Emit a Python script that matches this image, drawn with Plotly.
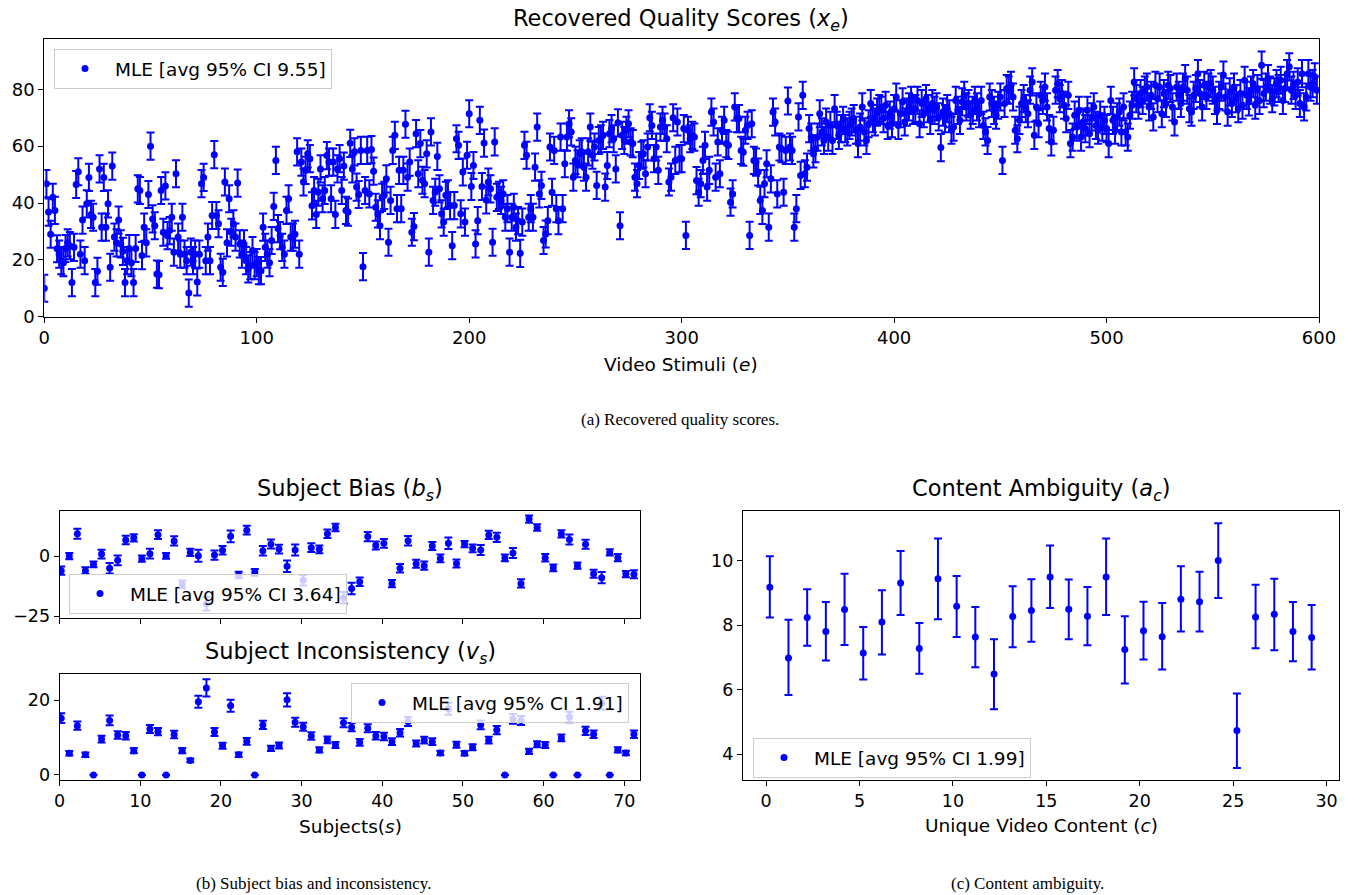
import plotly.graph_objects as go

# ---------------- data ----------------
# (a) recovered quality scores x_e, e = 0..599
quality_seg1 = [10, 46.8, 36.8, 29, 42, 37.4, 23.9, 22, 19.7, 19,
                24, 26, 25, 12, 24.4, 46.5, 51, 22, 34, 19.7,
                39.7, 49, 36, 35, 12, 16, 52, 31.5, 49, 31.5,
                39.7, 17.4, 53, 28, 26, 34, 25.6, 23, 12, 19.7,
                24, 19, 12, 24, 45, 44.4, 21.5, 31.5, 26, 43,
                60, 34.4, 32, 15, 14.8, 44.4, 29.7, 46, 28.5, 30.3,
                35, 22.7, 50.3, 28, 22, 35, 22, 19.7, 8.3, 22.7,
                19.7, 22, 12.2, 22, 46.8, 49, 19.7, 28, 19.7, 35.6,
                57, 35.6, 32.7, 17.4, 15.6, 47.4, 26, 41.5, 29.7, 32.7,
                28, 47, 25.6, 22, 25.6, 19.7, 16.8, 18, 23.3, 18,
                19, 16.2, 16.2, 31.5, 24.4, 22, 19, 26.8, 38.8, 55,
                31, 28.5, 24.4, 22, 37.4, 41.5, 28, 28, 29, 58,
                22, 54.4, 47.4, 51.5, 57.3, 55.6, 39, 44.4, 36, 43.8,
                52, 41.5, 44.4, 56.7, 54.4, 41.5, 54.4, 36, 52, 55.6,
                44.4, 53, 37.4, 36.8, 61, 52, 58, 45.6, 43, 58.5,
                17.6, 44.4, 58.5]
quality_seg2 = [43.2, 58.8, 51.2, 38.5, 36.2, 32, 42, 42.7, 48.5, 26.2,
                40.9, 58.5, 63.8, 38, 51.5, 38, 51.5, 67.7, 49.1, 54.4,
                29.7, 31.7, 64.4, 50.3, 60.9, 48, 46.8, 57.3, 22.7, 65,
                40.9, 43.8, 56.4, 45, 36.2, 33.3, 42.7, 43.2, 39.1, 25,
                39.1, 62.6, 60.3, 36.2, 50.9, 33.3, 56.8, 71.4, 45.8, 53.2,
                25.6, 33.8, 69.1, 45.8, 61.1, 41.1, 47.4, 45, 26.2, 61.5,
                42, 42.7, 40.9, 43.2, 35, 38, 22.7, 35, 38.5, 31.5,
                33.8, 22.3, 33.3, 60.3, 56.8, 35, 38, 35, 52.6, 66.7,
                43.2, 46.2, 26.8, 29.1, 33.8, 59.7, 43.8, 58.5, 38,
                33.8, 63.2, 38, 53.8, 63.2, 67.9, 65, 49.1, 55,
                53.8, 57.3, 58, 52.6, 49.1, 58, 66.7, 56.8,
                59.7, 46.2, 62, 62.6, 63.8, 45.6, 53.2, 64.4,
                66.2, 62.6, 52, 68.2, 32, 63.8, 62, 65.6, 67.9,
                61.5, 60.9, 49.1, 46.8, 53.2, 56.8, 57.3, 50.3, 59.7, 70,
                67.3, 55.6, 59.7, 51.5, 66.7, 69.1, 66.7, 62.6, 47.4, 49.1,
                70, 55, 68.5, 55.6, 55.6, 66.2, 28.6, 65.6, 62.6]
quality_seg3 = [63.8, 63.2, 47.9, 43.8, 46.8, 55, 60.3, 45.6, 51.5, 72,
                68.5, 49.1, 61.5, 50.3, 65.6, 69.1, 60.9, 60.3, 40.3, 43.2,
                73.8, 69.7, 69.7, 58.5, 57.9, 65.6, 67.3, 28.6,
                67.9, 55, 54.4, 50.9, 40.9, 37.4, 46.8, 53.8, 31.5,
                48.5, 72, 68.5, 43.2, 59.7, 59.1, 43.8, 58.5, 75.9, 59.7, 58.5, 31.5,
                38, 70.3, 49.7, 77.9,
                50.3, 52.6, 66.2, 63.2, 57.3, 59.1, 63.2, 71.4, 65, 62,
                68.5, 63.2, 67.3, 62, 73.2, 67.3, 63.8, 66.2, 69.1, 66.2,
                65, 67.3, 68.5, 69.7, 65.6, 60.9, 66.7, 73.8, 65, 62,
                67.9, 75, 69.7, 68.5, 72, 73.2, 72.6, 69.7, 74.4, 67.3,
                70.9, 67.9, 73.2, 77.3, 67.3, 71.4, 75.6, 68.5, 72, 73.8,
                76.1, 72.6, 73.2, 76.1, 67.9, 75, 71.4, 76.7, 73.2, 69.1,
                75, 72.6, 73.8, 70.3, 59.5,
                72, 69.7, 73.2, 71.4, 65.6, 66.7, 76.1, 72.6, 69.1, 75.6,
                77.9, 73.8, 75, 70.9, 72.6, 76.1, 73.8, 71.4, 76.1, 67.3,
                65, 62, 77.3, 75, 72.6, 70.9, 74.4, 77.3,
                55, 75, 80.3, 79.7]
quality_seg4 = [81.4, 77.3, 65.6, 62.6, 69.1, 75, 76.7, 73.2, 71.4, 79.7,
                82.6, 63.8, 73.8, 67.9, 77.9, 76.1, 80.8, 73.8, 66.2, 61.5,
                65.6, 79.7, 82, 76.7, 78.5, 74.4, 69.7, 77.9, 60.9, 63.2,
                70.9, 66.7, 72.6, 63.2, 68.5, 66.2, 72.6, 64.4, 70.3, 73.8,
                67.3, 65.6, 70.9, 66.7, 69.1, 66.2, 60.9, 76.1, 69.1, 65.6,
                70.3, 72, 65, 73.8, 65, 63.2, 70.9, 74.4, 82.6, 76.7,
                74.4, 78.5, 76.1, 79.7, 80.8, 73.8, 77.9, 70.3, 81.4, 76.7,
                80.8, 71.4, 78.5, 75, 81.4, 80.3, 73.8, 68.5, 80.8, 77.9,
                75, 80.8, 83.8, 79.7, 73.2, 72, 77.9, 80.3, 85.5, 78.5,
                73.8, 81.4, 77.9, 80.8, 82, 79.7, 76.1, 72.6, 77.9, 80.8,
                85, 77.3, 72, 79.1, 75, 80.8, 76.7, 73.2, 78.5, 74.4,
                83.2, 77.9, 75.6, 79.7, 82, 74.4, 80.3, 76.1, 88.5, 78.5,
                80.8, 83.8, 79.7, 76.7, 79.1, 82, 80.3, 83.2, 76.1, 80.3,
                85.5, 87.9, 79.7, 81.4, 77.9, 82.6, 75, 85.5, 73.8, 77.3,
                85.5, 80.8, 82, 84.4, 79.7]
quality = quality_seg1 + quality_seg2 + quality_seg3 + quality_seg4
stimuli = list(range(len(quality)))
quality_ci_half = 4.78          # avg 95% CI 9.55

# (b) subject bias b_s and inconsistency v_s, s = 0..71
subjects = [s + 0.2 for s in range(72)]
bias = [-6.1, 0, 9.3, -6.1, -3.5, 0.8, -5.1, -1.8, 6.7, 7.6,
        -1.1, 1.0, 8.9, 0.1, 6.3, -11.8, 1.5, 0.1, -19.9, 0.4,
        2.4, 8.2, -7.9, 10.8, -6.8, 2.2, 5.0, 2.9, -4.3, 2.5,
        -10.1, 3.5, 2.8, 9.3, 11.9, -17.4, -13.5, -10.7, 8.1, 4.4,
        5.3, -11.5, -5.1, 6.4, -3.2, -4.0, 4.2, -1.0, 5.3, -3.1,
        5.0, 3.2, 2.5, 8.8, 7.8, -0.8, 1.3, -11.4, 15.4, 11.9,
        -0.7, -4.9, 9.2, 6.9, -4.0, 4.9, -7.4, -9.0, 1.5, -0.7,
        -7.5, -7.6]
bias_ci_half = [1.7, 1.3, 2.1, 1.4, 1.2, 1.8, 2.2, 2.0, 1.8, 1.5,
                1.3, 2.0, 1.8, 1.2, 1.9, 1.6, 1.5, 2.5, 2.8, 1.9,
                1.8, 2.4, 1.4, 1.8, 1.4, 2.0, 1.9, 1.8, 2.4, 2.3,
                2.2, 1.8, 1.6, 1.8, 1.6, 2.4, 2.4, 1.8, 1.9, 1.7,
                1.8, 1.5, 1.8, 2.0, 1.7, 1.7, 1.7, 1.6, 2.4, 1.7,
                1.3, 1.6, 2.1, 1.7, 1.9, 1.4, 2.1, 1.7, 1.5, 1.4,
                1.6, 1.4, 1.5, 2.1, 1.3, 1.9, 1.7, 2.3, 1.3, 1.5,
                1.3, 1.7]
inconsistency = [15.2, 5.8, 13.2, 5.4, 0, 9.6, 14.6, 10.7, 10.5, 6.5,
                 0, 12.3, 11.6, 0, 10.8, 6.5, 3.9, 19.6, 23.3, 11.5,
                 7.8, 18.5, 5.4, 9.0, 0, 13.4, 7.1, 7.9, 20.1, 14.1,
                 12.9, 10.4, 6.7, 9.4, 8.0, 14.0, 12.8, 8.75, 12.5, 10.5,
                 10.3, 8.9, 11.3, 14.3, 8.4, 9.3, 8.9, 5.9, 17.7, 8.1,
                 5.8, 7.4, 13.4, 9.3, 12.0, 0, 15.0, 14.6, 6.3, 8.2,
                 8.0, 0, 9.9, 15.5, 0, 11.8, 10.9, 19.2, 0, 6.7,
                 5.9, 10.9]
inconsistency_ci_half = [1.3, 0.6, 1.1, 0.6, 0, 0.9, 1.3, 1.0, 1.0, 0.7,
                         0, 1.1, 1.0, 0, 1.0, 0.7, 0.5, 1.6, 2.3, 1.1,
                         0.8, 1.6, 0.6, 0.9, 0, 1.1, 0.7, 0.8, 1.8, 1.2,
                         1.1, 1.0, 0.7, 0.9, 0.8, 1.2, 1.1, 0.9, 1.1, 1.0,
                         1.0, 0.9, 1.0, 1.2, 0.8, 0.9, 0.9, 0.6, 1.6, 0.8,
                         0.6, 0.8, 1.2, 0.9, 1.1, 0, 1.3, 1.2, 0.7, 0.8,
                         0.8, 0, 0.9, 1.4, 0, 1.1, 1.0, 1.7, 0, 0.7,
                         0.6, 1.0]

# (c) content ambiguity a_c, c = 0..29
contents = [c + 0.2 for c in range(30)]
ambiguity = [9.17, 6.98, 8.23, 7.80, 8.48, 7.13, 8.09, 9.30, 7.27, 9.43,
             8.58, 7.63, 6.48, 8.26, 8.45, 9.49, 8.49, 8.27, 9.49, 7.24,
             7.82, 7.64, 8.80, 8.72, 10.00, 4.73, 8.25, 8.33, 7.80, 7.61]
ambiguity_lo = [8.23, 5.83, 7.36, 6.90, 7.38, 6.31, 7.09, 8.31, 6.49, 8.18,
                7.63, 6.69, 5.39, 7.31, 7.48, 8.53, 7.56, 7.37, 8.31, 6.19,
                6.93, 6.62, 7.80, 7.80, 8.84, 3.57, 7.28, 7.22, 6.88, 6.62]
ambiguity_hi = [10.13, 8.16, 9.11, 8.71, 9.59, 7.94, 9.08, 10.29, 8.06, 10.68,
                9.52, 8.56, 7.56, 9.20, 9.42, 10.46, 9.41, 9.18, 10.68, 8.27,
                8.72, 8.68, 9.82, 9.65, 11.15, 5.88, 9.25, 9.43, 8.71, 8.62]

legend_a = "MLE [avg 95% CI 9.55]"
legend_b = "MLE [avg 95% CI 3.64]"
legend_v = "MLE [avg 95% CI 1.91]"
legend_c = "MLE [avg 95% CI 1.99]"

# ---------------- figure ----------------
W, H = 1361, 895
BLUE = "#0000ff"
FONT = "DejaVu Sans"
SERIF = "Liberation Serif"


def px_x(p):
    return p / W


def px_y(p):
    return 1 - p / H


fig = go.Figure()

fig.add_trace(go.Scatter(
    x=stimuli, y=quality, mode="markers", name=legend_a,
    marker=dict(color=BLUE, size=7),
    error_y=dict(type="constant", value=quality_ci_half, color=BLUE, thickness=2, width=4),
    xaxis="x", yaxis="y", legend="legend"))

fig.add_trace(go.Scatter(
    x=subjects, y=bias, mode="markers", name=legend_b,
    marker=dict(color=BLUE, size=7),
    error_y=dict(type="data", array=bias_ci_half, color=BLUE, thickness=2, width=4),
    xaxis="x2", yaxis="y2", legend="legend2"))

fig.add_trace(go.Scatter(
    x=subjects, y=inconsistency, mode="markers", name=legend_v,
    marker=dict(color=BLUE, size=7),
    error_y=dict(type="data", array=inconsistency_ci_half, color=BLUE, thickness=2, width=4),
    xaxis="x3", yaxis="y3", legend="legend3"))

amb_plus = [h - v for h, v in zip(ambiguity_hi, ambiguity)]
amb_minus = [v - l for v, l in zip(ambiguity, ambiguity_lo)]
fig.add_trace(go.Scatter(
    x=contents, y=ambiguity, mode="markers", name=legend_c,
    marker=dict(color=BLUE, size=7),
    error_y=dict(type="data", array=amb_plus, arrayminus=amb_minus, symmetric=False,
                 color=BLUE, thickness=2, width=4),
    xaxis="x4", yaxis="y4", legend="legend4"))


def axis_style(size):
    return dict(showline=True, linecolor="black", linewidth=1, mirror=True,
                ticks="outside", ticklen=5, tickwidth=1, tickcolor="black",
                showgrid=False, zeroline=False, automargin=False,
                tickfont=dict(family=FONT, size=size, color="black"))


legend_style = dict(xanchor="left", yanchor="top", bgcolor="rgba(255,255,255,0.8)",
                    bordercolor="#cccccc", borderwidth=1, itemwidth=50,
                    font=dict(family=FONT, size=18.5, color="black"))

TOP_TICK = 18
BOT_TICK = 17.5

fig.update_layout(
    template="none",
    width=W, height=H, autosize=False,
    margin=dict(l=0, r=0, t=0, b=0, pad=0, autoexpand=False),
    paper_bgcolor="white", plot_bgcolor="white",
    showlegend=True,
    xaxis=dict(domain=[px_x(44.3), px_x(1319)], anchor="y", range=[0, 600],
               tickvals=[0, 100, 200, 300, 400, 500, 600], **axis_style(TOP_TICK)),
    yaxis=dict(domain=[px_y(316.7), px_y(39.3)], anchor="x", range=[0, 97.6],
               tickvals=[0, 20, 40, 60, 80], **axis_style(TOP_TICK)),
    xaxis2=dict(domain=[px_x(59.6), px_x(640.4)], anchor="y2", range=[0, 72],
                tickvals=[0, 10, 20, 30, 40, 50, 60, 70], showticklabels=False,
                **axis_style(BOT_TICK)),
    yaxis2=dict(domain=[px_y(617.7), px_y(510.7)], anchor="x2", range=[-25.7, 18.9],
                tickvals=[-25, 0], **axis_style(BOT_TICK)),
    xaxis3=dict(domain=[px_x(59.6), px_x(640.4)], anchor="y3", range=[0, 72],
                tickvals=[0, 10, 20, 30, 40, 50, 60, 70], **axis_style(BOT_TICK)),
    yaxis3=dict(domain=[px_y(780), px_y(673.7)], anchor="x3", range=[-1.35, 27.1],
                tickvals=[0, 20], **axis_style(BOT_TICK)),
    xaxis4=dict(domain=[px_x(742.9), px_x(1339.3)], anchor="y4", range=[-1.24, 30.68],
                tickvals=[0, 5, 10, 15, 20, 25, 30], **axis_style(BOT_TICK)),
    yaxis4=dict(domain=[px_y(780), px_y(510.7)], anchor="x4", range=[3.2, 11.54],
                tickvals=[4, 6, 8, 10], **axis_style(BOT_TICK)),
    legend=dict(x=px_x(54), y=px_y(49), **legend_style),
    legend2=dict(x=px_x(69), y=px_y(574), **legend_style),
    legend3=dict(x=px_x(351), y=px_y(683), **legend_style),
    legend4=dict(x=px_x(753), y=px_y(738), **legend_style),
)

texts = [
    ("Recovered Quality Scores (<i>x<sub>e</sub></i>)", 681, 20, 22.5, FONT),
    ("Video Stimuli (<i>e</i>)", 681, 364, 18.5, FONT),
    ("Subject Bias (<i>b<sub>s</sub></i>)", 350, 490, 22.5, FONT),
    ("Subject Inconsistency (<i>v<sub>s</sub></i>)", 350, 653, 22.5, FONT),
    ("Subjects(<i>s</i>)", 350, 826, 18.5, FONT),
    ("Content Ambiguity (<i>a<sub>c</sub></i>)", 1041, 490, 22.5, FONT),
    ("Unique Video Content (<i>c</i>)", 1041, 825, 18.5, FONT),
    ("(a) Recovered quality scores.", 680, 420, 17, SERIF),
    ("(b) Subject bias and inconsistency.", 313, 883, 17, SERIF),
    ("(c) Content ambiguity.", 1027, 883, 17, SERIF),
]
for txt, cx, cy, size, fam in texts:
    fig.add_annotation(text=txt, x=px_x(cx), y=px_y(cy), xref="paper", yref="paper",
                       xanchor="center", yanchor="middle", showarrow=False,
                       font=dict(family=fam, size=size, color="black"))

fig.write_html("out.html",
               config={"displayModeBar": False, "responsive": False},
               post_script="document.body.style.margin='0px';"
                           "document.body.style.overflow='hidden';")
